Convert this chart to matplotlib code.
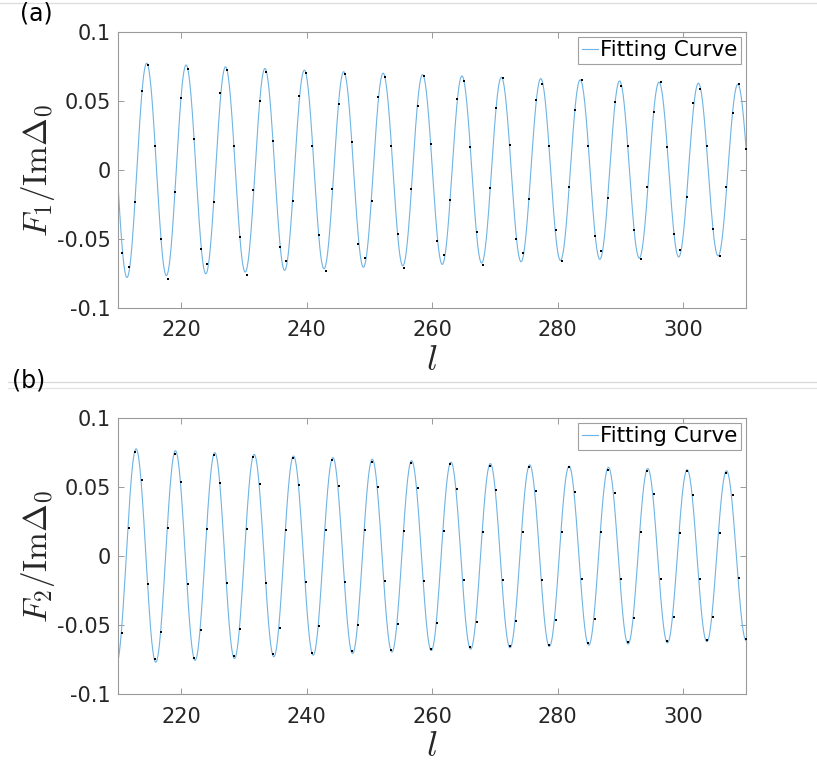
import numpy as np
import matplotlib
matplotlib.use("Agg")
import matplotlib.pyplot as plt
from matplotlib.lines import Line2D

plt.rcParams['mathtext.fontset'] = 'cm'
plt.rcParams['font.family'] = ['DejaVu Sans']

# ---------------- data ----------------
# sample positions of the numerical data points (regular grid)
l_first, l_last, n_points = 210.6, 310.0, 96

F1_points = [
    -0.0603, -0.0701, -0.0234, 0.0569, 0.0756, 0.0170, -0.0497, -0.0789, -0.0158, 0.0519,
    0.0729, 0.0225, -0.0576, -0.0679, -0.0232, 0.0555, 0.0725, 0.0170, -0.0483, -0.0763,
    -0.0148, 0.0500, 0.0710, 0.0210, -0.0557, -0.0658, -0.0227, 0.0538, 0.0698, 0.0170,
    -0.0469, -0.0734, -0.0141, 0.0478, 0.0691, 0.0201, -0.0536, -0.0636, -0.0222, 0.0526,
    0.0670, 0.0170, -0.0461, -0.0713, -0.0139, 0.0459, 0.0677, 0.0189, -0.0517, -0.0619,
    -0.0215, 0.0514, 0.0646, 0.0167, -0.0450, -0.0691, -0.0134, 0.0447, 0.0662, 0.0179,
    -0.0497, -0.0605, -0.0210, 0.0505, 0.0624, 0.0170, -0.0438, -0.0662, -0.0127, 0.0435,
    0.0650, 0.0172, -0.0481, -0.0591, -0.0203, 0.0490, 0.0605, 0.0170, -0.0433, -0.0648,
    -0.0127, 0.0418, 0.0636, 0.0163, -0.0461, -0.0579, -0.0196, 0.0481, 0.0583, 0.0170,
    -0.0426, -0.0626, -0.0122, 0.0409, 0.0619, 0.0151,
]

F2_points = [
    -0.0554, 0.0204, 0.0751, 0.0547, -0.0201, -0.0748, -0.0547, 0.0199, 0.0739, 0.0537,
    -0.0199, -0.0736, -0.0537, 0.0194, 0.0727, 0.0528, -0.0197, -0.0722, -0.0530, 0.0192,
    0.0717, 0.0518, -0.0192, -0.0712, -0.0518, 0.0189, 0.0707, 0.0511, -0.0187, -0.0700,
    -0.0508, 0.0187, 0.0693, 0.0508, -0.0185, -0.0688, -0.0499, 0.0185, 0.0683, 0.0499,
    -0.0182, -0.0683, -0.0492, 0.0182, 0.0674, 0.0489, -0.0182, -0.0671, -0.0484, 0.0180,
    0.0662, 0.0482, -0.0177, -0.0659, -0.0480, 0.0175, 0.0652, 0.0477, -0.0175, -0.0652,
    -0.0472, 0.0175, 0.0643, 0.0470, -0.0173, -0.0640, -0.0465, 0.0173, 0.0643, 0.0460,
    -0.0168, -0.0631, -0.0458, 0.0173, 0.0624, 0.0453, -0.0163, -0.0621, -0.0451, 0.0170,
    0.0616, 0.0448, -0.0163, -0.0616, -0.0444, 0.0168, 0.0612, 0.0444, -0.0163, -0.0607,
    -0.0439, 0.0165, 0.0602, 0.0439, -0.0158, -0.0600,
]

# fitting-curve parameters:
# [peak amplitude, position of that peak, decay exponent, period]
fit_F1 = [0.0772, 214.54, 0.607, 6.277]
fit_F2 = [0.0775, 212.85, 0.627, 6.270]

x_ticks = [220, 240, 260, 280, 300]
y_ticks = [-0.1, -0.05, 0, 0.05, 0.1]
y_tick_labels = ['-0.1', '-0.05', '0', '0.05', '0.1']
y_labels = [r'$F_1/\mathrm{Im}\Delta_0$', r'$F_2/\mathrm{Im}\Delta_0$']
panel_tags = ['(a)', '(b)']
legend_label = 'Fitting Curve'

# ---------------- figure ----------------
W, H = 817, 764
fig = plt.figure(figsize=(W / 100, H / 100), dpi=100)

left, right = 118.2, 746.0
panels_px = [(31.7, 308.0), (417.7, 694.3)]

curve_color = '#6fb4e4'
spine_color = '#9a9a9a'
text_color = '#262626'

l_grid = np.linspace(l_first, l_last, n_points)
l_fine = np.linspace(210, 310, 4000)


def fit_curve(l, p):
    a0, lp, ex, per = p
    return a0 * (l / lp) ** (-ex) * np.cos(2 * np.pi * (l - lp) / per)


for k, (pts, fitp) in enumerate([(F1_points, fit_F1), (F2_points, fit_F2)]):
    top, bot = panels_px[k]
    ax = fig.add_axes([left / W, 1 - bot / H, (right - left) / W, (bot - top) / H])
    ax.plot(l_fine, fit_curve(l_fine, fitp), color=curve_color, lw=0.8,
            label=legend_label, zorder=2)
    ax.plot(l_grid, pts, linestyle='none', marker='s', ms=2.0, mfc='black',
            mec='black', mew=0.0, zorder=3)
    ax.set_xlim(210, 310)
    ax.set_ylim(-0.1, 0.1)
    ax.set_xticks(x_ticks)
    ax.set_xticklabels([str(t) for t in x_ticks])
    ax.set_yticks(y_ticks)
    ax.set_yticklabels(y_tick_labels)
    ax.tick_params(direction='in', length=4.5, width=0.7, colors=spine_color,
                   labelcolor=text_color, labelsize=15, top=True, right=True)
    ax.tick_params(axis='x', pad=9)
    ax.tick_params(axis='y', pad=5.5)
    for s in ax.spines.values():
        s.set_color(spine_color)
        s.set_linewidth(0.8)

    ax.set_xlabel(r'$l$', fontsize=26, color=text_color)
    ax.xaxis.label.set_va('center')
    ax.xaxis.set_label_coords(0.5, -52 / (bot - top))
    ax.set_ylabel(y_labels[k], fontsize=24, color=text_color)
    ax.yaxis.label.set_va('center')
    ax.yaxis.set_label_coords((38 - left) / (right - left), 0.5)

    leg = ax.legend(loc='upper right', fontsize=15.5, handlelength=0.75,
                    handletextpad=0.1, borderpad=0.15, borderaxespad=0.25,
                    fancybox=False, framealpha=1, edgecolor='#a0a0a0')
    leg.get_frame().set_linewidth(0.8)

# panel tags
fig.text(36.5 / W, 1 - 14 / H, panel_tags[0], fontsize=17, ha='center', va='center', color='black')
fig.text(28.5 / W, 1 - 381 / H, panel_tags[1], fontsize=17, ha='center', va='center', color='black')

# thin separator lines seen in the picture
fig.add_artist(Line2D([0, 1], [1 - 2.7 / H, 1 - 2.7 / H], color='#dcdcdc', lw=0.9, zorder=0))
fig.add_artist(Line2D([8 / W, 1], [1 - 381.7 / H, 1 - 381.7 / H], color='#d8d8d8', lw=0.9, zorder=0))
fig.add_artist(Line2D([8 / W, 1], [1 - 388.3 / H, 1 - 388.3 / H], color='#e4e4e4', lw=0.9, zorder=0))

fig.savefig('out.png', dpi=100, facecolor='white')
